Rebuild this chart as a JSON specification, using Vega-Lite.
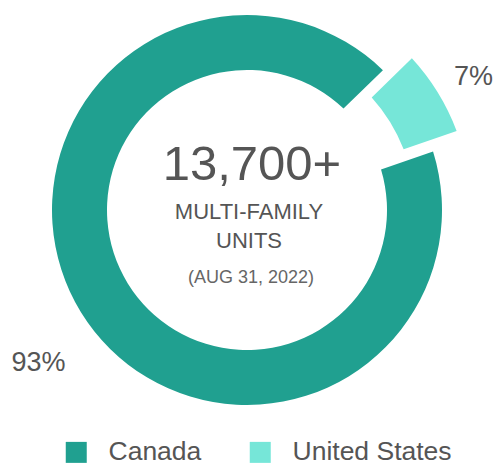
{
  "$schema": "https://vega.github.io/schema/vega-lite/v6.json",
  "width": 494,
  "height": 420,
  "padding": 0,
  "autosize": {"type": "pad"},
  "background": "white",
  "config": {"view": {"stroke": null}, "font": "Liberation Sans"},
  "datasets": {
    "share": [
      {"country": "Canada", "pct": 93, "label": "93%"},
      {"country": "United States", "pct": 7, "label": "7%"}
    ],
    "center": [
      {"role": "value", "text": "13,700+"},
      {"role": "line1", "text": "MULTI-FAMILY"},
      {"role": "line2", "text": "UNITS"},
      {"role": "date", "text": "(AUG 31, 2022)"}
    ]
  },
  "layer": [
    {
      "data": {"name": "share"},
      "mark": {"type": "arc", "radius": 195, "radius2": 140, "padAngle": 0.045},
      "encoding": {
        "theta": {"field": "pct", "type": "quantitative", "stack": true, "scale": {"domain": [0, 100], "range": [1.239, 7.522]}},
        "color": {
          "field": "country", "type": "nominal",
          "scale": {"domain": ["Canada", "United States"], "range": ["#20a090", "#76e6d8"]},
          "legend": {
            "orient": "none", "legendX": 63, "legendY": 439, "direction": "horizontal", "title": null,
            "symbolType": "square", "symbolSize": 441, "symbolStrokeWidth": 0,
            "labelFontSize": 26.5, "labelColor": "#555555", "labelFont": "Liberation Sans",
            "labelOffset": 19, "columnPadding": 45, "padding": 0, "labelLimit": 300
          }
        },
        "order": {"field": "country", "type": "nominal", "sort": "ascending"},
        "opacity": {"condition": {"test": "datum.country === 'United States'", "value": 0}, "value": 1}
      }
    },
    {
      "data": {"name": "share"},
      "transform": [
        {"stack": "pct", "groupby": [], "sort": [{"field": "country", "order": "ascending"}], "as": ["p0", "p1"]},
        {"filter": "datum.country === 'United States'"}
      ],
      "mark": {"type": "arc", "radius": 224, "radius2": 168, "padAngle": 0.045},
      "encoding": {
        "theta": {"field": "p0", "type": "quantitative"},
        "theta2": {"field": "p1"},
        "color": {"field": "country", "type": "nominal"}
      }
    },
    {
      "data": {"name": "share"},
      "mark": {"type": "text", "radius": 259, "fontSize": 27, "color": "#555555", "align": "center", "baseline": "middle", "dx": 12, "dy": 17},
      "encoding": {
        "theta": {"field": "pct", "type": "quantitative", "stack": true, "scale": {"domain": [0, 100], "range": [1.239, 7.522]}},
        "order": {"field": "country", "type": "nominal", "sort": "ascending"},
        "text": {"condition": {"test": "datum.country === 'Canada'", "field": "label"}, "value": ""}
      }
    },
    {
      "data": {"name": "share"},
      "mark": {"type": "text", "radius": 259, "fontSize": 27, "color": "#555555", "align": "center", "baseline": "middle", "dx": 6, "dy": 3},
      "encoding": {
        "theta": {"field": "pct", "type": "quantitative", "stack": true, "scale": {"domain": [0, 100], "range": [1.239, 7.522]}},
        "order": {"field": "country", "type": "nominal", "sort": "ascending"},
        "text": {"condition": {"test": "datum.country === 'United States'", "field": "label"}, "value": ""}
      }
    },
    {
      "data": {"name": "center"},
      "transform": [{"filter": "datum.role === 'value'"}],
      "mark": {"type": "text", "fontSize": 49, "color": "#555555", "align": "center", "baseline": "alphabetic", "dx": 5, "dy": -30},
      "encoding": {"text": {"field": "text"}}
    },
    {
      "data": {"name": "center"},
      "transform": [{"filter": "datum.role === 'line1'"}],
      "mark": {"type": "text", "fontSize": 22, "color": "#555555", "align": "center", "baseline": "alphabetic", "dx": 2, "dy": 8.5},
      "encoding": {"text": {"field": "text"}}
    },
    {
      "data": {"name": "center"},
      "transform": [{"filter": "datum.role === 'line2'"}],
      "mark": {"type": "text", "fontSize": 22, "color": "#555555", "align": "center", "baseline": "alphabetic", "dx": 2, "dy": 38},
      "encoding": {"text": {"field": "text"}}
    },
    {
      "data": {"name": "center"},
      "transform": [{"filter": "datum.role === 'date'"}],
      "mark": {"type": "text", "fontSize": 18, "color": "#666666", "align": "center", "baseline": "alphabetic", "dx": 4, "dy": 73},
      "encoding": {"text": {"field": "text"}}
    }
  ]
}
